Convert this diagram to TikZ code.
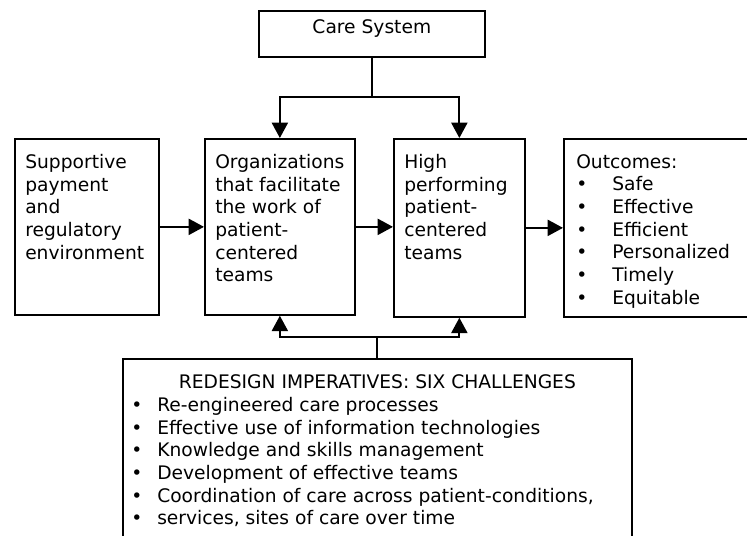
\documentclass[tikz,border=0pt]{standalone}
\usepackage{fontspec}
\setmainfont{DejaVu Sans}
\usetikzlibrary{arrows.meta,calc}
\newcommand{\bulletline}[2]{\makebox[#1][l]{\textbullet}#2}

\begin{document}
\begin{tikzpicture}[x=0.75pt, y=-0.75pt,
    box/.style={draw, line width=1.3pt, inner sep=0pt, anchor=north west},
    txt/.style={inner sep=0pt, align=left, font=\fontsize{14pt}{17pt}\selectfont},
    conn/.style={line width=1.6pt, -{Triangle[length=11.5pt,width=12pt]}}]
    \path[use as bounding box, clip] (0,0) rectangle (747,536);
    \node[box, minimum width=169.5pt, minimum height=34.5pt] (care) at (258,10) {};
    \node[box, minimum width=108pt, minimum height=132pt] (sup) at (14,138) {};
    \node[box, minimum width=112.5pt, minimum height=132pt] (org) at (204,138) {};
    \node[box, minimum width=98.25pt, minimum height=133.5pt] (high) at (393,138) {};
    \node[box, minimum width=150pt, minimum height=133.5pt] (out) at (563,138) {};
    \node[box, minimum width=381.75pt, minimum height=142.5pt] (red) at (122,358) {};
    \node[txt, anchor=north] (caretxt) at ([shift={(0,9)}]care.north) {Care System};
    \node[txt, anchor=north west] (suptxt) at ([shift={(11,16)}]sup.north west)
        {Supportive\\payment\\and\\regulatory\\environment};
    \node[txt, anchor=north west] (orgtxt) at ([shift={(11,16)}]org.north west)
        {Organizations\\that facilitate\\the work of\\patient-\\centered\\teams};
    \node[txt, anchor=north west] (hightxt) at ([shift={(11,16)}]high.north west)
        {High\\performing\\patient-\\centered\\teams};
    \node[txt, anchor=north west] (outtxt) at ([shift={(13,16)}]out.north west)
        {Outcomes:\\\bulletline{27pt}{Safe}\\\bulletline{27pt}{Effective}\\
         \bulletline{27pt}{Efficient}\\\bulletline{27pt}{Personalized}\\
         \bulletline{27pt}{Timely}\\\bulletline{27pt}{Equitable}};
    \node[txt, anchor=north] (redhead) at ([shift={(0,16.5)}]red.north)
        {REDESIGN IMPERATIVES: SIX CHALLENGES};
    \node[txt, anchor=north west] (reditems) at ([shift={(9,39)}]red.north west)
        {\bulletline{19.5pt}{Re-engineered care processes}\\
         \bulletline{19.5pt}{Effective use of information technologies}\\
         \bulletline{19.5pt}{Knowledge and skills management}\\
         \bulletline{19.5pt}{Development of effective teams}\\
         \bulletline{19.5pt}{Coordination of care across patient-conditions,}\\
         \bulletline{19.5pt}{services, sites of care over time}};
    \coordinate (topsplit) at (care.south |- 0,97);
    \coordinate (botsplit) at (red.north |- 0,337);
    \draw[conn] (care.south) -- (topsplit) -| (org.north);
    \draw[conn] (topsplit) -| (high.north);
    \draw[conn] (red.north) -- (botsplit) -| (org.south);
    \draw[conn] (botsplit) -| (high.south);
    \draw[conn] (sup.east) -- (sup.east -| org.west);
    \draw[conn] (org.east) -- (org.east -| high.west);
    \draw[conn] (high.east) -- (high.east -| out.west);
\end{tikzpicture}
\end{document}
